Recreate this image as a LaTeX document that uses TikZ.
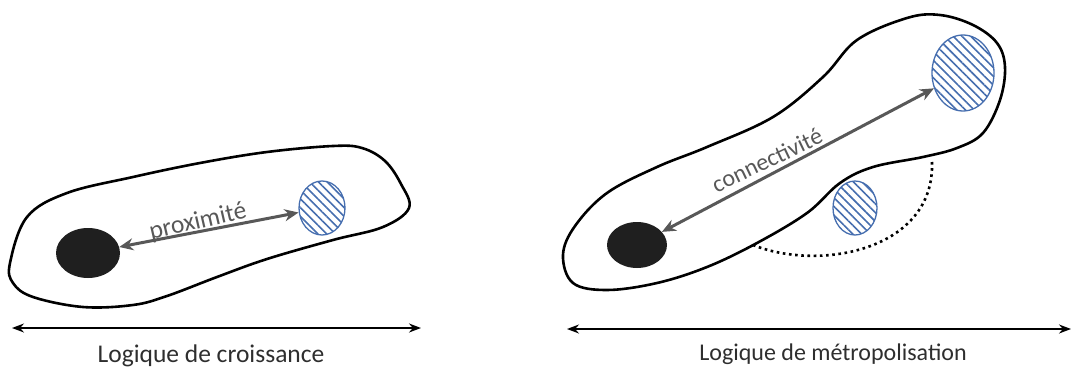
\documentclass[tikz,border=0pt]{standalone}
\usepackage{fontspec}
\setmainfont{Carlito}
\usetikzlibrary{patterns.meta,arrows.meta,shapes.geometric}
\definecolor{hatchblue}{RGB}{70,110,175}
\definecolor{arrowgray}{RGB}{88,88,88}
\tikzset{
  blob/.style={draw=black,line width=2.6pt,line join=round},
  core/.style={fill=black!88,draw=none},
  hatched/.style={draw=hatchblue,line width=1.3pt,pattern={Lines[angle=-45,distance=6.2pt,line width=1.6pt]},pattern color=hatchblue},
  link/.style={draw=arrowgray,line width=3pt,{Stealth[length=14pt,width=12pt]}-{Stealth[length=14pt,width=12pt]}},
  axis/.style={draw=black,line width=1.6pt,{Stealth[length=12pt,width=9pt]}-{Stealth[length=12pt,width=9pt]}},
  lbl/.style={text=arrowgray,inner sep=1pt},
  caption/.style={text=black!82,inner sep=0pt},
  bigtext/.style={font=\fontsize{25.5}{30}\selectfont},
  midtext/.style={font=\fontsize{24}{28}\selectfont}
}
\begin{document}
\begin{tikzpicture}[x=1pt,y=-1pt]
\useasboundingbox (0,0) rectangle (1071,372);
% ---------- left panel ----------
\draw[blob] plot[smooth cycle,tension=0.6] coordinates {
 (10,263) (27,217) (67,193) (133,177) (200,163) (267,152) (333,146) (362,148)
 (385,161) (401,184) (409,208) (383,227) (333,240) (267,259) (217,277)
 (167,296) (133,305) (83,307) (33,297) (13,283)};
\node[core,ellipse,minimum width=64pt,minimum height=50pt,inner sep=0pt] (c1) at (88,253) {};
\node[hatched,ellipse,minimum width=46pt,minimum height=54pt,inner sep=0pt] (h1) at (322,208) {};
\draw[link] (c1) -- (h1);
\node[lbl,bigtext,rotate=13] (p1) at (198,222) {proximité};
\coordinate (a1l) at (12,328);
\coordinate (a1r) at (421,328);
\draw[axis] (a1l) -- (a1r);
\node[caption,bigtext] (t1) at (211,356) {Logique de croissance};
% ---------- right panel ----------
\draw[blob] plot[smooth cycle,tension=0.6] coordinates {
 (563,255) (575,226) (607,193) (657,167) (707,147) (773,117) (823,77)
 (857,40) (907,18) (940,15) (973,25) (997,43) (1005,67) (1000,100)
 (983,133) (957,148) (923,157) (873,167) (840,183) (807,213) (757,243)
 (707,267) (657,283) (607,290) (573,283)};
\node[core,ellipse,minimum width=60pt,minimum height=46pt,inner sep=0pt] (c2) at (637,245) {};
\node[hatched,ellipse,minimum width=62pt,minimum height=76pt,inner sep=0pt] (h2) at (963,73) {};
\node[hatched,ellipse,minimum width=44pt,minimum height=54pt,inner sep=0pt] (h3) at (855,208) {};
\draw[link] (c2) -- (h2);
\node[lbl,midtext,rotate=25.5] (p2) at (767,160) {connectivité};
\coordinate (d1) at (753,245);
\coordinate (d2) at (932,162);
\draw[black,line width=2.6pt,dash pattern=on 2.6pt off 3.6pt] (d1) .. controls (820,272) and (935,250) .. (d2);
\coordinate (a2l) at (567,329);
\coordinate (a2r) at (1071,329);
\draw[axis] (a2l) -- (a2r);
\node[caption,midtext] (t2) at (833,354) {Logique de métropolisation};
\end{tikzpicture}
\end{document}
